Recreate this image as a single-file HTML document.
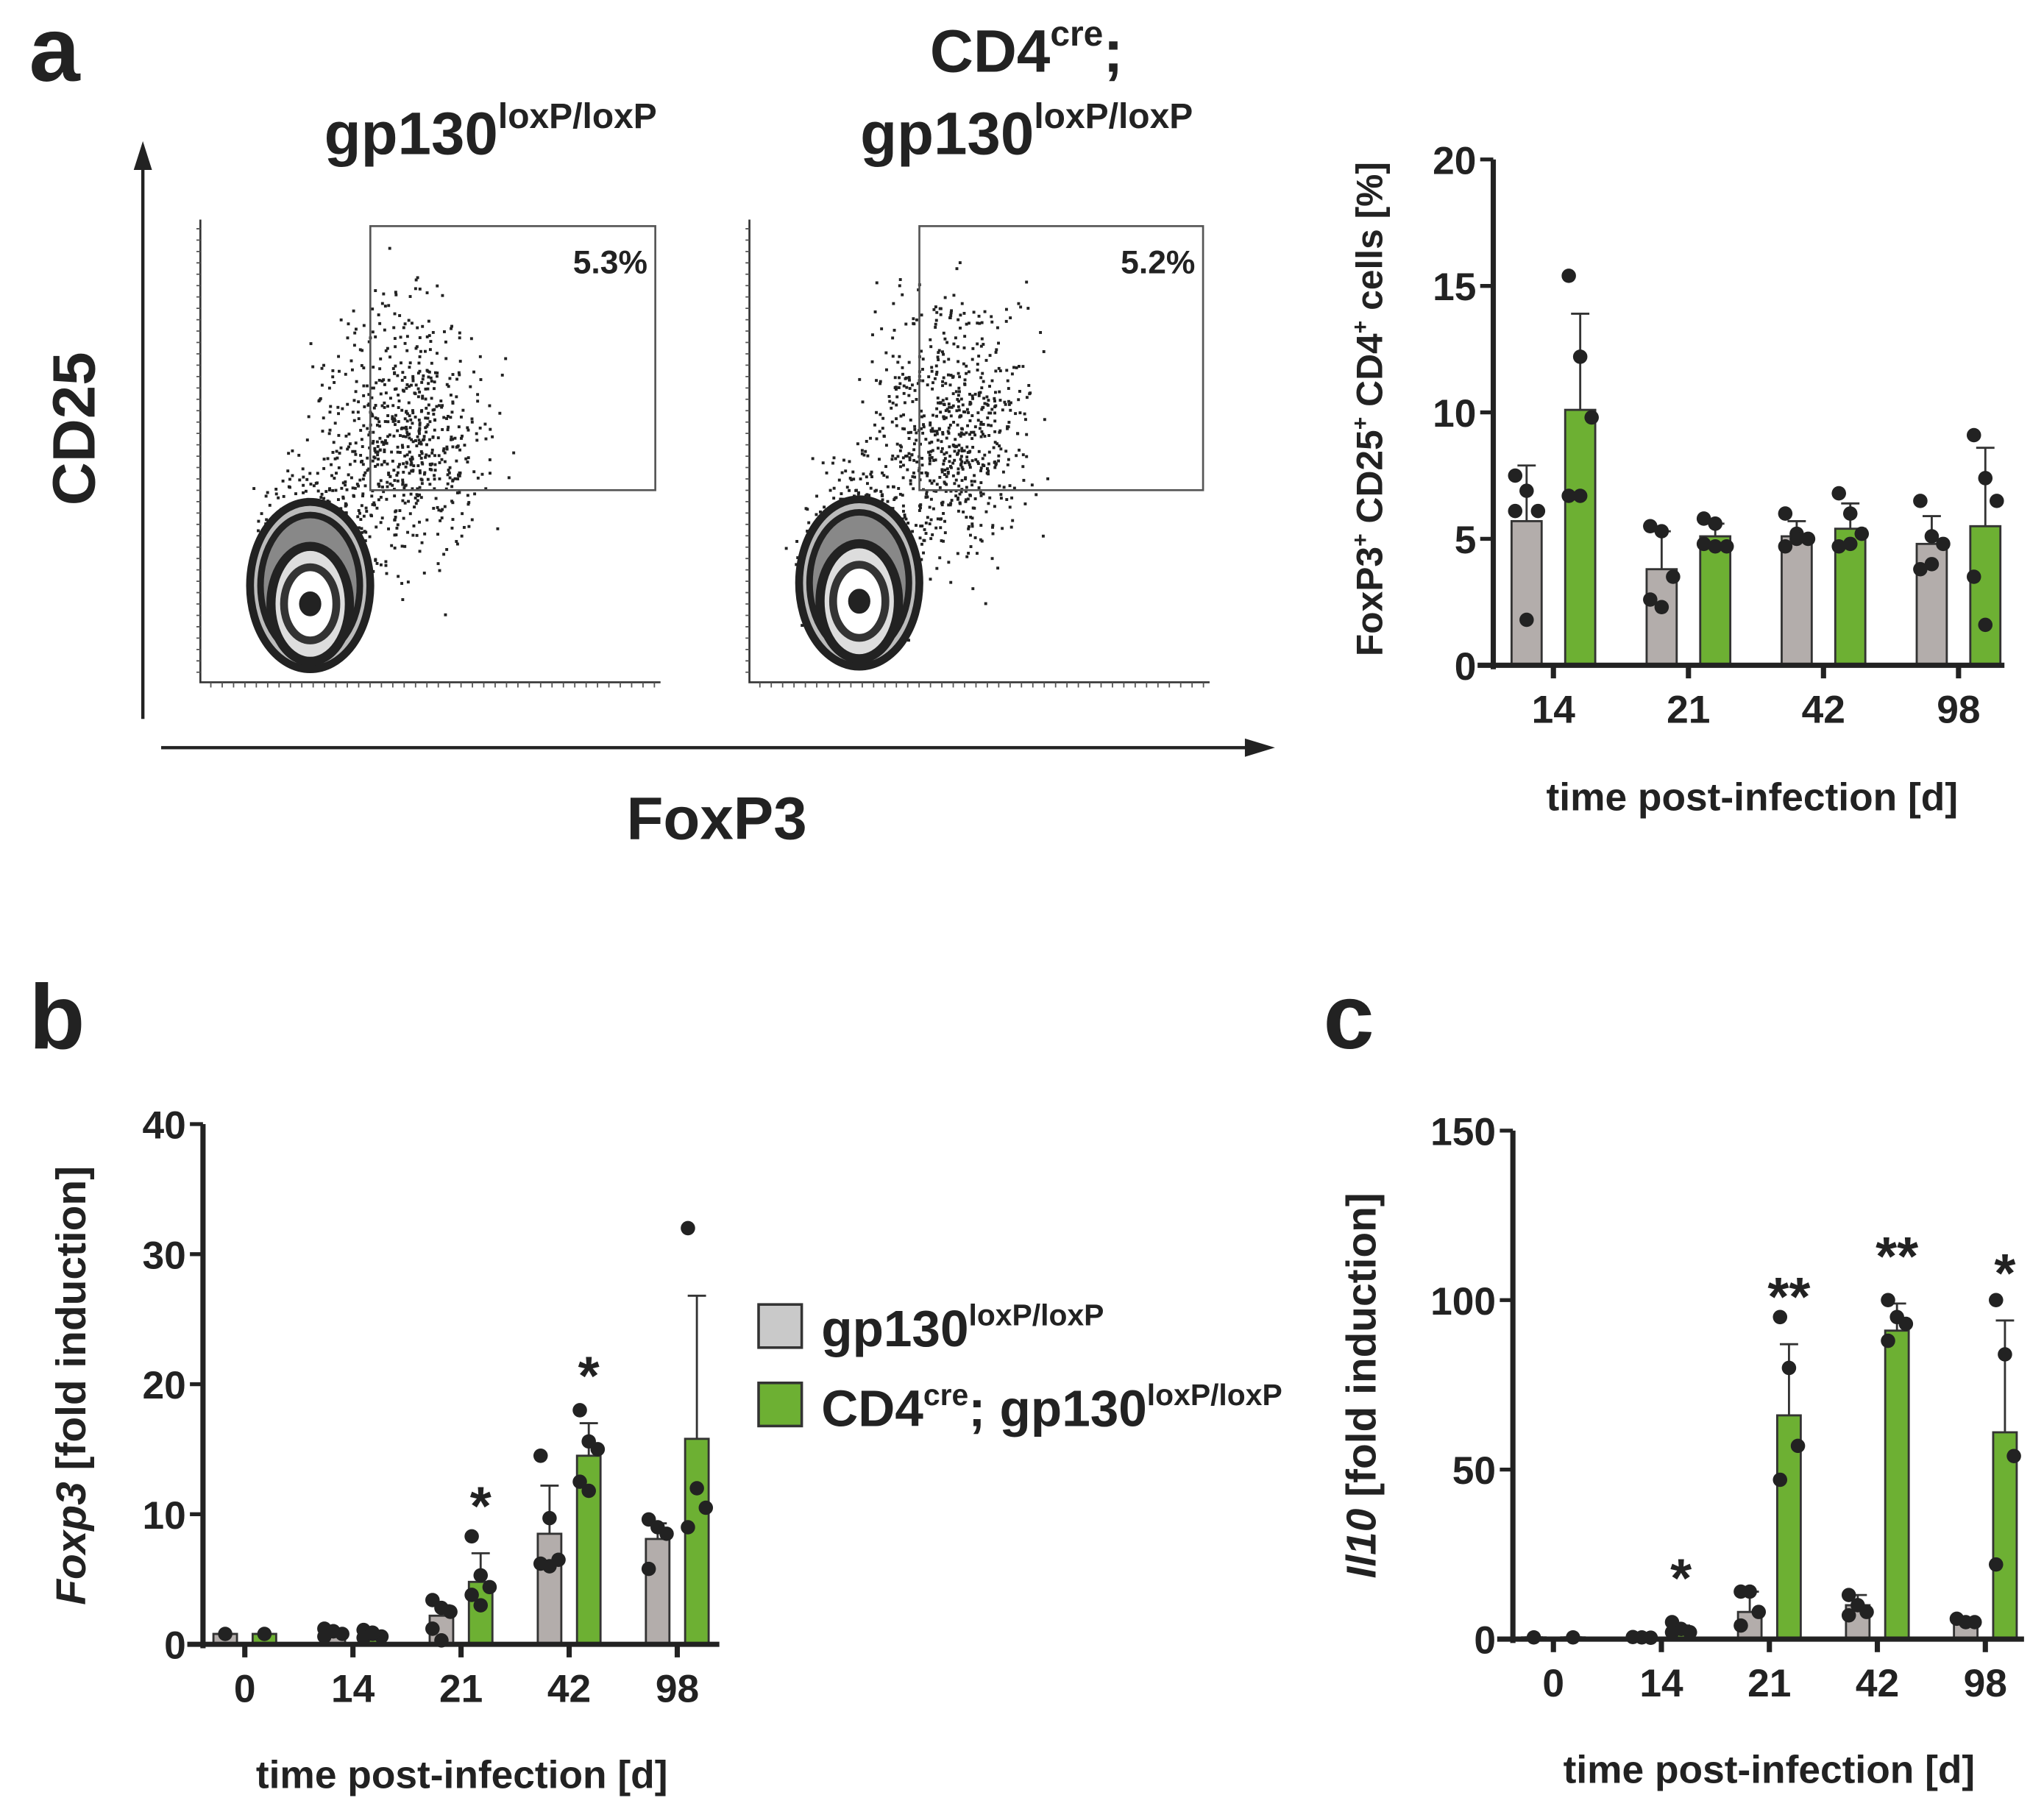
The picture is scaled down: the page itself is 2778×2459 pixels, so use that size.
<!DOCTYPE html>
<html><head><meta charset="utf-8"><style>
html,body{margin:0;padding:0;background:#fff}
svg{display:block}
text{font-family:"Liberation Sans",Arial,sans-serif;font-weight:bold;fill:#222}
</style></head><body>
<svg id="fig" width="2778" height="2459" viewBox="0 0 1563 1384" xmlns="http://www.w3.org/2000/svg">
<rect width="1563" height="1384" fill="#fff"/>
<text x="22" y="62" font-size="70">a</text>
<text x="22" y="802" font-size="70">b</text>
<text x="1012" y="802" font-size="70">c</text>
<text x="375" y="118" font-size="46" text-anchor="middle">gp130<tspan font-size="27" dy="-20">loxP/loxP</tspan></text>
<text x="785" y="55" font-size="46" text-anchor="middle">CD4<tspan font-size="27" dy="-20">cre</tspan><tspan dy="20">;</tspan></text>
<text x="785" y="118" font-size="46" text-anchor="middle">gp130<tspan font-size="27" dy="-20">loxP/loxP</tspan></text>
<g id="flow"></g>
<line x1="109" y1="550" x2="109" y2="125" stroke="#222" stroke-width="2.5"/>
<polygon points="109,108 102,130 116,130" fill="#222"/>
<line x1="123" y1="572" x2="955" y2="572" stroke="#222" stroke-width="2.5"/>
<polygon points="975,572 952,565 952,579" fill="#222"/>
<text x="72" y="328" font-size="46" text-anchor="middle" transform="rotate(-90 72 328)">CD25</text>
<text x="548" y="642" font-size="46" text-anchor="middle">FoxP3</text>
<g id="chartA"></g>
<g id="chartB"></g>
<g id="chartC"></g>
<rect x="580" y="998" width="33" height="33" fill="#c9c9c9" stroke="#333" stroke-width="2"/>
<text x="628" y="1030" font-size="39">gp130<tspan font-size="23" dy="-16">loxP/loxP</tspan></text>
<rect x="580" y="1058" width="33" height="33" fill="#6db033" stroke="#333" stroke-width="2"/>
<text x="628" y="1091" font-size="39">CD4<tspan font-size="23" dy="-16">cre</tspan><tspan dy="16">; gp130</tspan><tspan font-size="23" dy="-16">loxP/loxP</tspan></text>
</svg>
<script>
const NS="http://www.w3.org/2000/svg";
function mk(parent,tag,attrs){const e=document.createElementNS(NS,tag);for(const k in attrs)e.setAttribute(k,attrs[k]);parent.appendChild(e);return e;}

// ---------- Chart a data ----------
const aCats=["14","21","42","98"];
const aGrayMean=[5.7,3.8,5.1,4.8];
const aGrayErr=[7.9,5.3,5.7,5.9];
const aGreenMean=[10.1,5.1,5.4,5.5];
const aGreenErr=[13.9,5.6,6.4,8.6];
const aGrayDots=[[7.5,6.9,6.1,6.1,1.8],[5.5,5.3,3.5,2.6,2.3],[6.0,5.2,5.0,4.7,5.0],[6.5,5.1,4.8,3.8,4.0]];
const aGreenDots=[[15.4,12.2,9.8,6.7,6.7],[5.8,5.6,4.7,4.8,4.7],[6.8,6.0,5.2,4.7,4.8],[9.1,7.4,6.5,3.5,1.6]];
const aTicks=[0,5,10,15,20];
const aStars=["","","",""];

// ---------- Chart b data ----------
const bCats=["0","14","21","42","98"];
const bGrayMean=[0.8,0.8,2.2,8.5,8.1];
const bGrayErr=[0.8,1.2,3.0,12.2,9.3];
const bGreenMean=[0.8,0.7,4.8,14.5,15.8];
const bGreenErr=[0.8,1.0,7.0,17.0,26.8];
const bGrayDots=[[0.8],[1.2,1.0,0.8,0.6,1.0],[3.4,2.8,2.5,1.2,0.3],[14.5,9.7,6.5,6.2,6.0],[9.6,9.0,8.5,5.8]];
const bGreenDots=[[0.8],[1.1,0.9,0.6,0.5,0.8],[8.3,5.3,4.4,3.8,3.0],[18.0,15.6,15.0,12.5,11.8],[32,12,10.5,9.0]];
const bTicks=[0,10,20,30,40];
const bStars=["","","*","*",""];

// ---------- Chart c data ----------
const cCats=["0","14","21","42","98"];
const cGrayMean=[0.5,0.5,8,10,5];
const cGrayErr=[0.5,0.8,14,13,6];
const cGreenMean=[0.5,2.5,66,91,61];
const cGreenErr=[0.5,4,87,99,94];
const cGrayDots=[[0.5],[0.6,0.5,0.4],[14,14,8,4],[13,10,8,7],[6,5,5]];
const cGreenDots=[[0.5],[5,3,2,2],[95,80,57,47],[100,95,93,88],[100,84,54,22]];
const cTicks=[0,50,100,150];
const cStars=["","*","**","**","*"];

function drawChart(g,o){
  const y=v=>o.y0-(v/o.max)*(o.y0-o.y1);
  const x=i=>o.x0+i*o.step;
  o.cats.forEach((c,i)=>{
    const series=[[o.gm,o.ge,o.gd,"#b3adab",-o.off],[o.km,o.ke,o.kd,"#6db033",o.off]];
    series.forEach((s,si)=>{
      const cx=x(i)+s[4], m=s[0][i], top=y(m);
      const r=mk(g,"rect",{x:cx-o.bw/2,y:top,width:o.bw,height:o.y0-top,fill:s[3],stroke:"#333","stroke-width":1.6});
      
      
      const ey=y(s[1][i]);
      const el=mk(g,"path",{d:`M${cx},${top}V${ey}M${cx-7},${ey}H${cx+7}`,stroke:"#333","stroke-width":1.6,fill:"none"});
      
      
      const n=s[2][i].length;
      s[2][i].forEach((v,k)=>{
        const dx=n>1?(k%3-1)*o.bw*0.38:0;
        const d=mk(g,"circle",{cx:cx+dx,cy:y(v),r:o.dr,fill:"#222"});
        
        
      });
    });
    if(o.stars[i]){
      const t=mk(g,"text",{x:x(i)+o.off,y:y(o.ke[i])-o.starGap,"font-size":42,"text-anchor":"middle"});
      t.textContent=o.stars[i];
      
      
    }
  });
  const ya=mk(g,"line",{x1:o.ax,y1:o.y0+3,x2:o.ax,y2:o.y1,stroke:"#222","stroke-width":4});
  
  
  const xa=mk(g,"line",{x1:o.ax-12,y1:o.y0,x2:o.xend,y2:o.y0,stroke:"#222","stroke-width":4});
  
  
  o.ticks.forEach(t=>{
    const ty=y(t);
    const l=mk(g,"line",{x1:o.ax-10,y1:ty,x2:o.ax,y2:ty,stroke:"#222","stroke-width":3});
    
    
    const tx=mk(g,"text",{x:o.ax-13,y:ty+11,"font-size":30,"text-anchor":"end"});
    tx.textContent=t;
    
    
  });
  o.cats.forEach((c,i)=>{
    const l=mk(g,"line",{x1:x(i),y1:o.y0,x2:x(i),y2:o.y0+10,stroke:"#222","stroke-width":4});
    
    
    const tx=mk(g,"text",{x:x(i),y:o.y0+44,"font-size":30,"text-anchor":"middle"});
    tx.textContent=c;
    
    
  });
  const xt=mk(g,"text",{x:o.xtX,y:o.xtY,"font-size":30,"text-anchor":"middle"});
  xt.textContent="time post-infection [d]";
  
  
  const yt=mk(g,"text",{x:o.ytX,y:o.ytY,"font-size":o.ytFs,"text-anchor":"middle",transform:`rotate(-90 ${o.ytX} ${o.ytY})`});
  yt.innerHTML=o.ytHtml;
  
  
}

drawChart(document.getElementById("chartA"),{cats:aCats,gm:aGrayMean,ge:aGrayErr,gd:aGrayDots,km:aGreenMean,ke:aGreenErr,kd:aGreenDots,
  ticks:aTicks,stars:aStars,max:20,y0:509,y1:122,x0:1188,step:103.3,off:20.5,bw:23,dr:5.5,ax:1142,xend:1533,starGap:20,
  xtX:1340,xtY:620,ytX:1057,ytY:313,ytFs:28,ytHtml:'FoxP3<tspan font-size="17" dy="-11">+</tspan><tspan dy="11"> CD25</tspan><tspan font-size="17" dy="-11">+</tspan><tspan dy="11"> CD4</tspan><tspan font-size="17" dy="-11">+</tspan><tspan dy="11"> cells [%]</tspan>'});
drawChart(document.getElementById("chartB"),{cats:bCats,gm:bGrayMean,ge:bGrayErr,gd:bGrayDots,km:bGreenMean,ke:bGreenErr,kd:bGreenDots,
  ticks:bTicks,stars:bStars,max:40,y0:1258,y1:860,x0:187,step:82.7,off:15,bw:18,dr:5.5,ax:155,xend:550,starGap:22,
  xtX:353,xtY:1368,ytX:65,ytY:1060,ytFs:32,ytHtml:'<tspan font-style="italic">Foxp3</tspan> [fold induction]'});
drawChart(document.getElementById("chartC"),{cats:cCats,gm:cGrayMean,ge:cGrayErr,gd:cGrayDots,km:cGreenMean,ke:cGreenErr,kd:cGreenDots,
  ticks:cTicks,stars:cStars,max:150,y0:1254,y1:865,x0:1188,step:82.6,off:15,bw:18,dr:5.5,ax:1157,xend:1548,starGap:22,
  xtX:1353,xtY:1364,ytX:1052,ytY:1060,ytFs:32,ytHtml:'<tspan font-style="italic">Il10</tspan> [fold induction]'});

// ---------- Flow cytometry plots (decorative) ----------
const flowPanels=[{x:153,gate:[283,173,501,375],label:"5.3%",bx:237,by:462},{x:573,gate:[703,173,920,375],label:"5.2%",bx:657,by:460}];
let seed=7;function rnd(){seed=(seed*16807)%2147483647;return seed/2147483647;}
function gauss(){return (rnd()+rnd()+rnd()+rnd()-2)/1.2;}
const fg=document.getElementById("flow");
flowPanels.forEach((p,pi)=>{
  const g=mk(fg,"g",{});
  
  
  mk(g,"path",{d:`M${p.x},168V522H${p.x+352}`,stroke:"#333","stroke-width":1.5,fill:"none"});
  let tk="";
  for(let k=0;k<40;k++){const ty=175+k*8.7;tk+=`M${p.x-3},${ty}H${p.x}`;}
  for(let k=0;k<40;k++){const tx=p.x+8+k*8.7;tk+=`M${tx},522V526`;}
  mk(g,"path",{d:tk,stroke:"#555","stroke-width":1,fill:"none"});
  for(let k=0;k<700;k++){
    const px=p.bx+70+gauss()*60, py=p.by-130+gauss()*100;
    if(py<180||py>515||px<p.x+30)continue;
    mk(g,"rect",{x:px,y:py,width:2.2,height:2.2,fill:"#222"});
  }
  for(let k=0;k<500;k++){
    const px=p.bx+gauss()*40, py=p.by-40+gauss()*65;
    mk(g,"rect",{x:px,y:py,width:2.2,height:2.2,fill:"#222"});
  }
  [[46,64,"#bbb","#222",6],[38,54,"#888","#222",5],[30,44,"#ddd","#222",7],[20,28,"#fff","#333",6],[8,9,"#222","#222",1]].forEach(c=>{
    mk(g,"ellipse",{cx:p.bx,cy:p.by-(c[1]>50?14:0),rx:c[0],ry:c[1],fill:c[2],stroke:c[3],"stroke-width":c[4]});
  });
  const gr=mk(g,"rect",{x:p.gate[0],y:p.gate[1],width:p.gate[2]-p.gate[0],height:p.gate[3]-p.gate[1],fill:"none",stroke:"#555","stroke-width":1.5});
  
  
  const t=mk(g,"text",{x:p.gate[2]-6,y:p.gate[1]+36,"font-size":25,"text-anchor":"end"});
  t.textContent=p.label;
  
  
});
</script>
</body></html>
